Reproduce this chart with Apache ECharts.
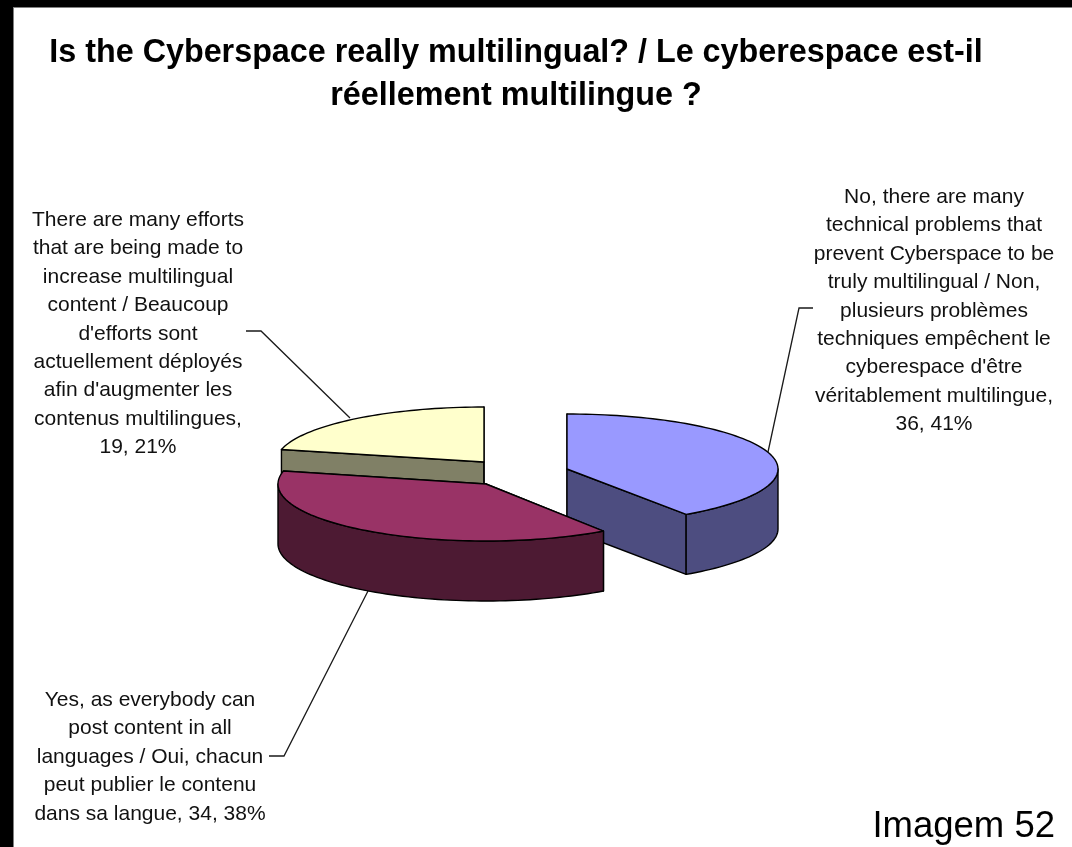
<!DOCTYPE html>
<html>
<head>
<meta charset="utf-8">
<style>html,body{margin:0;padding:0;background:#fff}#c{width:1072px;height:847px}</style>
<script src="https://cdn.jsdelivr.net/npm/echarts@6/dist/echarts.min.js"></script>
</head>
<body>
<div id="c"></div>
<script>
// --- data ---
const chartTitle = "Is the Cyberspace really multilingual? / Le cyberespace est-il\nréellement multilingue ?";
const values = [36, 34, 19];
const sliceLabels = [
  "No, there are many\ntechnical problems that\nprevent Cyberspace to be\ntruly multilingual / Non,\nplusieurs problèmes\ntechniques empêchent le\ncyberespace d'être\nvéritablement multilingue,\n36, 41%",
  "Yes, as everybody can\npost content in all\nlanguages / Oui, chacun\npeut publier le contenu\ndans sa langue, 34, 38%",
  "There are many efforts\nthat are being made to\nincrease multilingual\ncontent / Beaucoup\nd'efforts sont\nactuellement déployés\nafin d'augmenter les\ncontenus multilingues,\n19, 21%"
];
const footerText = "Imagem 52";

// --- styles & layout ---
const topColors = ["#9999FF", "#993366", "#FFFFCC"];
const wallColors = ["#4D4D80", "#4D1A33", "#808066"];
const centers = [[567, 469], [486, 484], [484, 462]];
const radiiX = [211, 208, 208];
const radiiY = [55, 57, 55];
const depth = 60;
const paintRank = [1, 3, 2];
const labelPos = [[934, 183], [150, 686], [138, 206]];
const leaders = [
  [[813, 308], [799, 308], [768, 452]],
  [[269, 756], [284, 756], [368, 591]],
  [[246, 331], [261, 331], [350, 418]]
];

const total = values.reduce((a, b) => a + b, 0);
const starts = [];
values.reduce((acc, v, i) => { starts[i] = acc; return acc + v; }, 0);

function renderSlice(params, api) {
  const i = params.dataIndex;
  const a0 = api.value(1) / total * 2 * Math.PI;
  const a1 = a0 + api.value(0) / total * 2 * Math.PI;
  const [cx, cy] = centers[i];
  const pt = (a, dy) => [cx + radiiX[i] * Math.sin(a), cy - radiiY[i] * Math.cos(a) + (dy || 0)];
  const arc = (from, to, dy) => {
    const n = Math.max(2, Math.ceil((to - from) / 0.03));
    const out = [];
    for (let k = 0; k <= n; k++) out.push(pt(from + (to - from) * k / n, dy));
    return out;
  };
  const base = paintRank[i] * 10;
  const line = { stroke: "#000", lineWidth: 1.4, lineJoin: "round" };
  const els = [];
  const poly = (points, fill, z) => els.push({
    type: "polygon", z2: base + z,
    shape: { points }, style: Object.assign({ fill }, line)
  });
  [a0, a1].forEach(a => poly([[cx, cy], pt(a), pt(a, depth), [cx, cy + depth]], wallColors[i], 0));
  const from = Math.max(a0, Math.PI / 2), to = Math.min(a1, 1.5 * Math.PI);
  if (to > from) poly(arc(from, to, 0).concat(arc(from, to, depth).reverse()), wallColors[i], 1);
  poly([[cx, cy]].concat(arc(a0, a1, 0)), topColors[i], 2);
  els.push({
    type: "polyline", z2: base - 5,
    shape: { points: leaders[i] },
    style: { fill: null, stroke: "#1a1a1a", lineWidth: 1.3 }
  });
  els.push({
    type: "text", z2: 50,
    style: {
      text: sliceLabels[i], x: labelPos[i][0], y: labelPos[i][1],
      align: "center", verticalAlign: "top",
      fill: "#111", font: '21px "Liberation Sans", Arial, sans-serif', lineHeight: 28.4
    }
  });
  return { type: "group", children: els };
}

const chart = echarts.init(document.getElementById("c"), null, { renderer: "canvas" });
chart.setOption({
  animation: false,
  backgroundColor: "#fff",
  title: {
    text: chartTitle, left: 511, top: 27, textAlign: "center",
    textStyle: { fontFamily: '"Liberation Sans", Arial, sans-serif', fontWeight: "bold", fontSize: 32.3, lineHeight: 43, color: "#000" }
  },
  graphic: [
    { type: "rect", left: 0, top: 0, shape: { width: 1072, height: 7 }, style: { fill: "#000" } },
    { type: "rect", left: 0, top: 0, shape: { width: 13, height: 847 }, style: { fill: "#000" } },
    { type: "rect", left: 13, top: 7, shape: { width: 1, height: 840 }, style: { fill: "#808080" } },
    { type: "rect", left: 13, top: 7, shape: { width: 1059, height: 1 }, style: { fill: "#808080" } },
    { type: "text", right: 17, top: 808, style: { text: footerText, fill: "#000", font: '36.5px "Liberation Sans", Arial, sans-serif' } }
  ],
  series: [{
    type: "custom",
    coordinateSystem: "none",
    silent: true,
    data: values.map((v, i) => [v, starts[i]]),
    renderItem: renderSlice
  }]
});
</script>
</body>
</html>
